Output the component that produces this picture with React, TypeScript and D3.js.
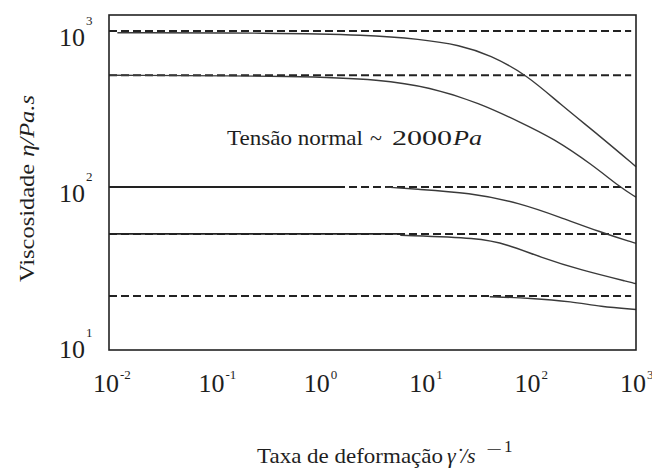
import React from "react";
import * as d3 from "d3";

// ---- data ----
const xTickValues = [1e-2, 1e-1, 1e0, 1e1, 1e2, 1e3];
const xTickExponents = ["-2", "-1", "0", "1", "2", "3"];
const yTickValues = [10, 100, 1000];
const yTickExponents = ["1", "2", "3"];

// zero-shear plateau values (dashed reference lines)
const plateauEta = [1000, 520, 100, 50, 20];
const plateauRange = [0.01, 900];

// solid low-shear segments
const solidEta = [100, 50];
const solidFrom = [0.01, 0.01];
const solidTo = [1.55, 5.8];

// measured curves: shear rate, viscosity
const curve1Rate = [0.012, 0.36, 2.8, 8.9, 21.4, 41.2, 92.5, 190, 455, 1000];
const curve1Eta = [975, 972, 945, 888, 813, 701, 523, 340, 212, 135];
const curve2Rate = [0.01, 0.76, 3.7, 11, 33, 79, 163, 390, 700, 1000];
const curve2Eta = [520, 515, 488, 437, 345, 261, 206, 138, 100, 86];
const curve3Rate = [4.2, 7.7, 26.6, 79, 190, 455, 935, 1000];
const curve3Eta = [100, 97, 92, 79, 64, 51.5, 44, 43.6];
const curve4Rate = [5.8, 33, 60, 123, 294, 935, 1000];
const curve4Eta = [49, 47.2, 42.8, 35.6, 29.4, 24.3, 24];
const curve5Rate = [41, 100, 250, 455, 1000];
const curve5Eta = [19.8, 19.4, 18.4, 17.1, 16.4];

const curves = [
  [curve1Rate, curve1Eta],
  [curve2Rate, curve2Eta],
  [curve3Rate, curve3Eta],
  [curve4Rate, curve4Eta],
  [curve5Rate, curve5Eta],
];

const W = 652;
const H = 468;
const left = 109, right = 636, top = 15, bottom = 350;

export default function App() {
  const x = d3.scaleLog().domain([1e-2, 1e3]).range([left, right]);
  const y = d3
    .scaleLog()
    .domain([Math.pow(10, 0.955), Math.pow(10, 3.1026)])
    .range([bottom, top]);

  const line = d3
    .line<[number, number]>()
    .x((d) => x(d[0]))
    .y((d) => y(d[1]))
    .curve(d3.curveBasis);

  const serif = "'Liberation Serif', 'Times New Roman', serif";
  const ink = "#1e1e1e";

  return (
    <svg
      width={W}
      height={H}
      style={{ position: "absolute", left: 0, top: 0, background: "#fff" }}
    >
      {/* dashed plateau lines */}
      {plateauEta.map((e, i) => (
        <line
          key={"p" + i}
          x1={x(plateauRange[0])}
          x2={x(plateauRange[1])}
          y1={y(e)}
          y2={y(e)}
          stroke="#222"
          strokeWidth={2}
          strokeDasharray="8,4"
        />
      ))}
      {/* solid low-shear segments */}
      {solidEta.map((e, i) => (
        <line
          key={"s" + i}
          x1={x(solidFrom[i])}
          x2={x(solidTo[i])}
          y1={y(e)}
          y2={y(e)}
          stroke="#222"
          strokeWidth={1.8}
        />
      ))}
      {/* curves */}
      {curves.map(([r, e], i) => (
        <path
          key={"c" + i}
          d={line(r.map((v, j) => [v, e[j]] as [number, number])) || ""}
          fill="none"
          stroke="#3a3a3a"
          strokeWidth={1.4}
        />
      ))}

      {/* frame */}
      <rect
        x={left}
        y={top}
        width={right - left}
        height={bottom - top}
        fill="none"
        stroke="#222"
        strokeWidth={1.6}
      />

      {/* y tick labels */}
      {yTickValues.map((v, i) => (
        <g key={"yt" + i} fill={ink} fontFamily={serif}>
          <text x={85} y={y(v) + 15} fontSize={26} textAnchor="end">
            10
          </text>
          <text x={86} y={y(v) - 6} fontSize={13}>
            {yTickExponents[i]}
          </text>
        </g>
      ))}

      {/* x tick labels */}
      {xTickValues.map((v, i) => (
        <g key={"xt" + i} fill={ink} fontFamily={serif}>
          <text x={x(v) - 3} y={392} fontSize={26} textAnchor="middle">
            10
          </text>
          <text x={x(v) + 11} y={379} fontSize={13}>
            {xTickExponents[i]}
          </text>
        </g>
      ))}

      {/* annotation */}
      <g fontFamily={serif} fill={ink}>
        <text x={227} y={145} fontSize={21} textLength={136} lengthAdjust="spacingAndGlyphs">
          Tensão normal
        </text>
        <text x={370} y={145} fontSize={22}>~</text>
        <text x={392} y={145} fontSize={21} textLength={60} lengthAdjust="spacingAndGlyphs">
          2000
        </text>
        <text x={453} y={145} fontSize={21} fontStyle="italic" textLength={29} lengthAdjust="spacingAndGlyphs">
          Pa
        </text>
      </g>

      {/* x axis title */}
      <g fontFamily={serif} fill={ink}>
        <text x={257} y={463} fontSize={21} textLength={186} lengthAdjust="spacingAndGlyphs">
          Taxa de deformação
        </text>
        <text x={447} y={463} fontSize={22} fontStyle="italic">
          γ̇
        </text>
        <text x={461} y={463} fontSize={22} fontStyle="italic">
          /s
        </text>
        <text x={486} y={455} fontSize={17} textLength={16} lengthAdjust="spacingAndGlyphs">
          −
        </text>
        <text x={504} y={452} fontSize={17}>
          1
        </text>
      </g>

      {/* y axis title */}
      <text
        transform={`translate(34, 282) rotate(-90)`}
        fontFamily={serif}
        fontSize={21}
        fill={ink}
        textLength={187}
        lengthAdjust="spacingAndGlyphs"
      >
        Viscosidade
        <tspan dx={6} fontStyle="italic">η</tspan>
        <tspan fontStyle="italic">/Pa.s</tspan>
      </text>
    </svg>
  );
}
